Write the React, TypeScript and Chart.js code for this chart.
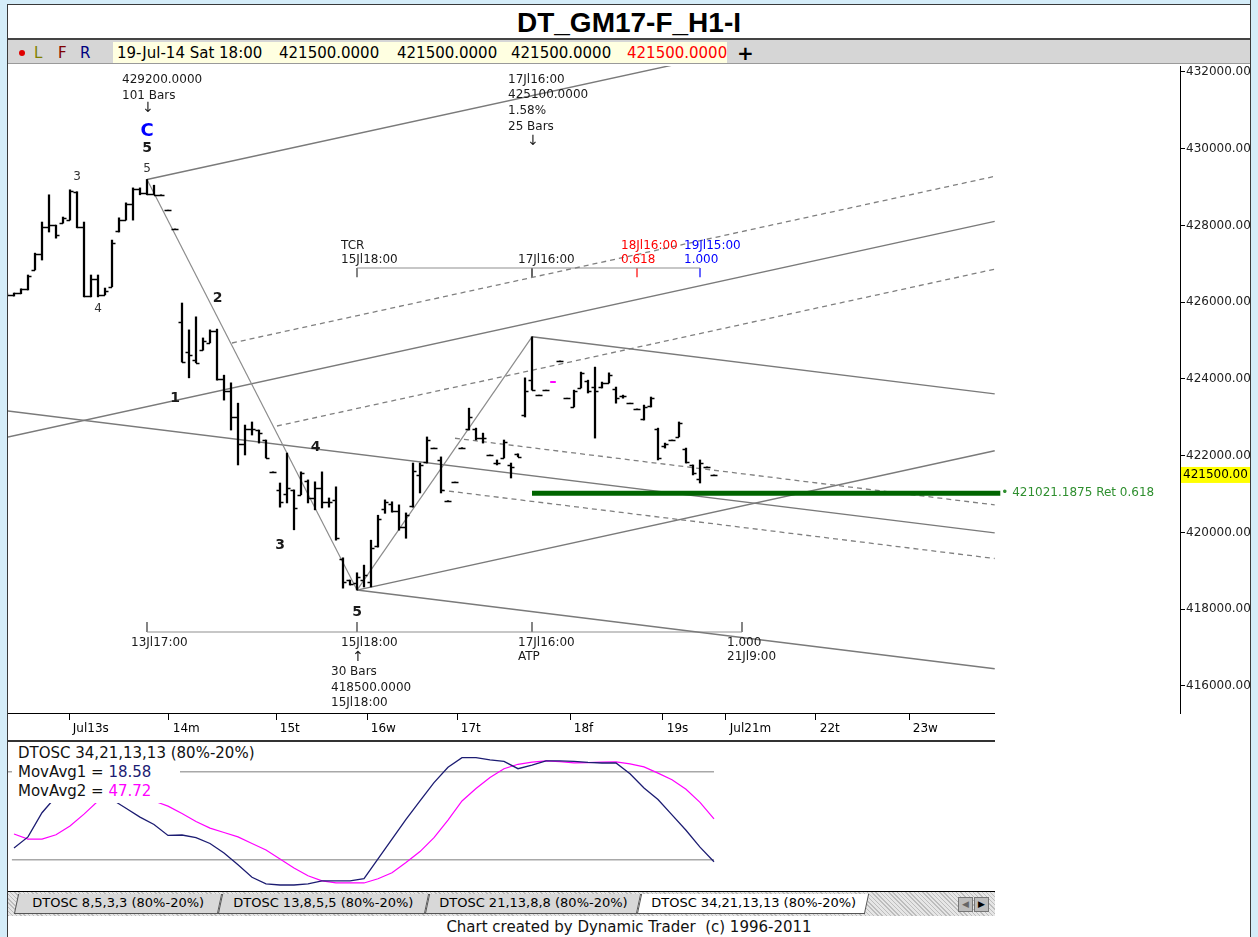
import React, { useEffect, useRef } from 'react';
import { Chart, registerables } from 'chart.js';
Chart.register(...registerables);

const FONT = '"DejaVu Sans", Verdana, sans-serif';

// ---------------- price bars (hourly, x = bar number) ----------------
const barIdx = [0,1,2,3,4,5,6,7,8,9,10,11,12,13,14,15,16,17,18,19,20,21,22,23,24,25,26,27,28,29,30,31,32,33,34,35,36,37,38,39,40,41,42,43,44,45,46,47,48,49,50,51,52,53,54,55,56,57,58,59,60,61,62,63,64,65,66,67,68,69,70,71,72,73,74,75,76,77,78,79,80,81,82,83,84,85,86,87,88,89,90,91,92,93,94,95,96,97,98,99,100,101];
const opens = [426220,426200,426230,426340,426850,427250,427950,428000,428070,428150,428880,427950,426160,426600,426200,426400,427850,428150,428550,428950,428850,428820,428800,428400,427910,425480,424700,424500,424760,424950,425250,424000,423700,423000,422300,422700,422670,422400,421580,421100,421000,421100,420990,421350,420900,421150,420800,420850,419300,418760,418680,418760,418700,419650,420600,420750,420550,420150,420700,421500,421850,422200,421900,420830,421315,422210,422700,422700,422450,422020,421820,421950,421750,422040,423050,423970,423580,423710,null,424470,423500,423270,423770,423950,423800,423780,423900,423750,423550,423370,423220,422950,423300,422700,422250,422410,422490,422180,421750,421400,421710,421500];
const highs = [426240,426240,426350,426710,427280,428090,428800,428010,428220,428930,428880,428090,426710,426710,426370,427620,428200,428590,428980,428980,429200,429050,428800,428400,427910,425980,425280,425620,425070,425280,425300,424100,423900,423370,422800,422880,422670,422410,421580,421290,422070,421110,421580,421370,421320,421580,420900,421190,419340,418760,418950,419150,419800,420450,420850,420800,420720,420510,421810,421810,422490,422200,421970,420830,421315,422210,423240,422720,422590,422020,421890,422410,421810,422050,424030,425100,423580,423710,null,424470,423500,423710,424180,423970,424310,423920,424160,423790,423580,423370,423220,423320,423530,422720,422330,422410,422880,422200,421760,421890,421710,421500];
const lows = [426190,426160,426220,426320,426840,427100,427830,427670,428060,428140,427940,426140,426140,426140,426190,426400,427830,428140,428140,428800,428800,428800,428800,428400,427910,424440,424030,424420,424750,424940,423970,423450,422670,421760,422020,422540,422330,421940,421580,420660,420770,420070,420980,420770,420590,420640,420660,419800,418550,418630,418500,418580,418580,419620,420500,420530,420060,419850,420660,421030,421810,422200,421030,420830,421315,422210,422670,422410,422330,422020,421760,421940,421420,421970,423010,423710,423580,423710,null,424470,423500,423270,423765,423635,422460,423765,423895,423370,423500,423370,423220,422930,423270,421890,422200,422410,422490,421810,421500,421290,421710,421500];
const closes = [426200,426230,426340,426680,427250,427950,428000,427750,428200,428900,427950,426160,426600,426200,426300,427550,428150,428550,428950,428850,428820,428800,428800,428400,427910,424450,424620,424420,425000,425250,424000,423700,423000,422300,422700,422700,422600,421950,421580,420800,421150,420650,421550,420900,421150,420800,420800,419850,418700,418650,418840,418900,419600,420350,420800,420550,420150,420450,421600,421750,422400,422200,421100,420830,421315,422210,423000,422450,422450,422020,421820,422350,421700,421980,423700,423720,423580,423710,null,424470,423500,423700,424150,423680,423700,423900,424100,423500,423550,423370,423220,423280,423500,421950,422300,422410,422850,421850,421550,421800,421710,421500];
const lastClose = 421500;
const markerBar = [77.6, 78.4];
const markerPrice = 423921;

// ---------------- axes ----------------
const priceTicks = [416000,418000,420000,422000,424000,426000,428000,430000,432000];
const dayTicks = [8.86,23.14,38.43,51.43,64.29,80.43,93.71,102.71,115.57,128.86];
const dayLabels = ['Jul13s','14m','15t','16w','17t','18f','19s','Jul21m','22t','23w'];

// ---------------- drawn tools (bar, price) ----------------
const waveCto5 = [[20,429200],[50,418500]];
const wave5toATP = [[50,418500],[75,425100]];
const chanUpper = [[20,429200],[141.1,434008]];
const chanMid = [[0.143,422489],[141.1,428108]];
const chanLow = [[50,418500],[141.1,422131]];
const dashA = [[32.14,424938],[141.1,429281]];
const dashB = [[38.57,422775],[141.1,426862]];
const downLeft = [[0.143,423166],[141.1,419990]];
const downTop = [[75,425100],[141.1,423611]];
const downLow = [[50,418500],[141.1,416448]];
const dashC = [[64,422456],[141.1,420719]];
const dashD = [[61.86,421107],[141.1,419322]];
const retLevel = 421021.1875;
const retLine = [[75,retLevel],[141.9,retLevel]];
const tcrPrice = 426893;
const tcrTickPrice = 426650;
const tcrBars = [50,75,90,99];
const projPrice = 417407;
const projTickPrice = 417667;
const projBars = [20,50,75,105];

// ---------------- oscillator ----------------
const oscBars = [1,3,5,7,9,11,13,15,17,19,21,23,25,27,29,31,33,35,37,39,41,43,45,47,49,51,53,55,57,59,61,63,65,67,69,71,73,75,77,79,81,83,85,87,89,91,93,95,97,99,101];
const movAvg1 = [28,35.5,52,63,68,70,67,61,55,49,44,36.5,36.8,35,31,24.5,16.5,8,3.5,2.7,2.7,3.5,5.5,5.5,5.5,7,20.5,34,47.5,60,72.5,83,89.5,89.5,88,87,82,84.5,87.3,87.3,87,86.3,85.9,85.9,78.5,68.9,61,50.5,40,28.5,18.58];
const movAvg2 = [37.5,34,34,37,43,51,60,64,66,64,60,56.5,51.5,46,41.5,38.5,35.5,31,26.6,20.5,14.3,9,5.5,4.1,4.1,4.1,7,11,18,25.5,35,47,60,68.5,76,82,85,86.5,87.3,86.8,86,86.2,86.5,86.6,85.3,83.2,79,74.5,68,59,47.72];
const oscUpper = 80;
const oscLower = 20;

const pts = (a: number[][]) => a.map(([x, y]) => ({ x, y }));
const seg = (a: number[][], color: string, width: number, dash: number[] = [], order = 5) => ({
  type: 'line' as const, data: pts(a), borderColor: color, borderWidth: width, borderDash: dash,
  pointRadius: 0, fill: false, tension: 0, order,
});

const ohlcPlugin = {
  id: 'ohlcTicks',
  afterDatasetsDraw(chart: any) {
    const { ctx, scales: { x, y } } = chart;
    ctx.save();
    ctx.strokeStyle = '#000';
    ctx.lineWidth = 1.4;
    ctx.beginPath();
    for (let k = 0; k < barIdx.length; k++) {
      if (opens[k] == null) continue;
      const px = x.getPixelForValue(barIdx[k]);
      const po = Math.round(y.getPixelForValue(opens[k] as number)) + 0.5;
      const pcl = Math.round(y.getPixelForValue(closes[k] as number)) + 0.5;
      ctx.moveTo(px - 3.5, po); ctx.lineTo(px, po);
      ctx.moveTo(px, pcl); ctx.lineTo(px + 3.5, pcl);
    }
    ctx.stroke();
    ctx.restore();
  },
};

function txt(ctx: CanvasRenderingContext2D, s: string, x: number, y: number, color = '#1a1a1a', size = 12, bold = false, align: CanvasTextAlign = 'left') {
  ctx.font = `${bold ? 'bold ' : ''}${size}px ${FONT}`;
  ctx.fillStyle = color;
  ctx.textAlign = align;
  ctx.textBaseline = 'middle';
  ctx.fillText(s, x, y);
}

const notesPlugin = {
  id: 'notes',
  afterDraw(chart: any) {
    const { ctx, scales: { x, y }, chartArea } = chart;
    const X = (b: number) => x.getPixelForValue(b);
    const Y = (v: number) => y.getPixelForValue(v);
    const top = chartArea.top;
    ctx.save();
    // C top group
    const cx = X(20), cy = Y(429200);
    txt(ctx, '429200.0000', cx - 25, cy - 100);
    txt(ctx, '101 Bars', cx - 25, cy - 84);
    txt(ctx, '\u2193', cx + 1, cy - 71, '#1a1a1a', 14, false, 'center');
    txt(ctx, 'C', cx, cy - 48, '#0000ff', 18, true, 'center');
    txt(ctx, '5', cx, cy - 31, '#1a1a1a', 14, true, 'center');
    txt(ctx, '5', cx, cy - 11, '#333', 12, false, 'center');
    // wave labels
    txt(ctx, '3', X(10), Y(428930) - 13, '#333', 12, false, 'center');
    txt(ctx, '4', X(13), Y(426140) + 12, '#333', 12, false, 'center');
    txt(ctx, '2', X(30.1), Y(425300) - 31, '#1a1a1a', 14, true, 'center');
    txt(ctx, '1', X(24), Y(423504), '#1a1a1a', 14, true, 'center');
    txt(ctx, '4', X(44.1), Y(422228), '#1a1a1a', 14, true, 'center');
    txt(ctx, '3', X(39), Y(419674), '#1a1a1a', 14, true, 'center');
    txt(ctx, '5', X(50), Y(418500) + 22, '#1a1a1a', 14, true, 'center');
    // ATP top group
    const ax = X(75);
    txt(ctx, '17Jl16:00', ax - 24, top + 14);
    txt(ctx, '425100.0000', ax - 24, top + 29);
    txt(ctx, '1.58%', ax - 24, top + 45);
    txt(ctx, '25 Bars', ax - 24, top + 61);
    txt(ctx, '\u2193', ax + 1, top + 75, '#1a1a1a', 14, false, 'center');
    // TCR labels
    const ty = Y(tcrPrice);
    txt(ctx, 'TCR', X(50) - 16, ty - 22);
    txt(ctx, '15Jl18:00', X(50) - 16, ty - 8);
    txt(ctx, '17Jl16:00', X(75) - 14, ty - 8);
    txt(ctx, '18Jl16:00', X(90) - 16, ty - 22, '#ff0000');
    txt(ctx, '0.618', X(90) - 16, ty - 8, '#ff0000');
    txt(ctx, '19Jl15:00', X(99) - 16, ty - 22, '#0000ff');
    txt(ctx, '1.000', X(99) - 16, ty - 8, '#0000ff');
    // time projection labels
    const py = Y(projPrice);
    txt(ctx, '13Jl17:00', X(20) - 16, py + 11);
    txt(ctx, '15Jl18:00', X(50) - 16, py + 11);
    txt(ctx, '\u2191', X(50) + 1, py + 25, '#1a1a1a', 14, false, 'center');
    txt(ctx, '30 Bars', X(50) - 26, py + 40);
    txt(ctx, '418500.0000', X(50) - 26, py + 56);
    txt(ctx, '15Jl18:00', X(50) - 26, py + 71);
    txt(ctx, '17Jl16:00', X(75) - 14, py + 11);
    txt(ctx, 'ATP', X(75) - 14, py + 25);
    txt(ctx, '1.000', X(105) - 15, py + 11);
    txt(ctx, '21Jl9:00', X(105) - 15, py + 25);
    // retracement label
    txt(ctx, '\u2022 421021.1875 Ret 0.618', X(141.9) + 1, Y(retLevel), '#2f8f2f', 12);
    // last price on axis
    const ly = Y(lastClose);
    ctx.fillStyle = '#ffff00';
    ctx.fillRect(chartArea.right + 1, ly - 8, 80, 16);
    txt(ctx, '421500.00', chartArea.right + 3, ly, '#000', 12);
    ctx.restore();
  },
};

function priceConfig(): any {
  return {
    type: 'bar',
    data: {
      datasets: [
        {
          type: 'bar', data: barIdx.map((b, k) => ({ x: b, y: lows[k] == null ? null : [lows[k], highs[k]] })),
          backgroundColor: '#000', borderWidth: 0, barThickness: 1.6, grouped: false, order: 0,
        },
        seg([[markerBar[0], markerPrice], [markerBar[1], markerPrice]], '#ff00ff', 2, [], 1),
        seg(retLine, '#006400', 5, [], 2),
        seg(waveCto5, '#8c8c8c', 1.2),
        seg(wave5toATP, '#8c8c8c', 1.2),
        seg(chanUpper, '#7a7a7a', 1.4),
        seg(chanMid, '#7a7a7a', 1.4),
        seg(chanLow, '#7a7a7a', 1.4),
        seg(downLeft, '#7a7a7a', 1.4),
        seg(downTop, '#7a7a7a', 1.4),
        seg(downLow, '#7a7a7a', 1.4),
        seg(dashA, '#808080', 1.3, [5, 4]),
        seg(dashB, '#808080', 1.3, [5, 4]),
        seg(dashC, '#808080', 1.3, [5, 4]),
        seg(dashD, '#808080', 1.3, [5, 4]),
        seg([[tcrBars[0], tcrPrice], [tcrBars[3], tcrPrice]], '#909090', 1.2),
        seg([[tcrBars[0], tcrPrice], [tcrBars[0], tcrTickPrice]], '#333', 1.2),
        seg([[tcrBars[1], tcrPrice], [tcrBars[1], tcrTickPrice]], '#000', 1.2),
        seg([[tcrBars[2], tcrPrice], [tcrBars[2], tcrTickPrice]], '#ff0000', 1.2),
        seg([[tcrBars[3], tcrPrice], [tcrBars[3], tcrTickPrice]], '#0000ff', 1.2),
        seg([[projBars[0], projPrice], [projBars[3], projPrice]], '#909090', 1.2),
        ...projBars.map((b) => seg([[b, projPrice], [b, projTickPrice]], '#333', 1.2)),
      ],
    },
    options: {
      responsive: false, animation: false, events: [],
      layout: { padding: 0, autoPadding: false },
      plugins: { legend: { display: false }, tooltip: { enabled: false } },
      scales: {
        x: {
          type: 'linear', min: 1 / 7, max: 1173 / 7, offset: false,
          grid: { drawOnChartArea: false, tickLength: 7, color: '#000', offset: false },
          border: { display: false },
          ticks: { autoSkip: false, maxRotation: 0, align: 'start', padding: 2, color: '#000', font: { family: FONT, size: 12 },
            callback: (_v: any, i: number) => ' ' + dayLabels[i] },
          afterBuildTicks: (s: any) => { s.ticks = dayTicks.map((v) => ({ value: v })); },
          afterFit: (s: any) => { s.height = 27; s.paddingLeft = 0; s.paddingRight = 0; },
        },
        y: {
          type: 'linear', position: 'right', min: 415296.4, max: 432156.35,
          grid: { drawOnChartArea: false, tickLength: 5, color: '#000' },
          border: { display: true, color: '#000', width: 1 },
          ticks: { padding: 1, color: '#222', font: { family: FONT, size: 12 }, callback: (v: any) => Number(v).toFixed(2) },
          afterBuildTicks: (s: any) => { s.ticks = priceTicks.map((v) => ({ value: v })); },
          afterFit: (s: any) => { s.width = 78; s.paddingTop = 0; s.paddingBottom = 0; },
        },
      },
    },
    plugins: [ohlcPlugin, notesPlugin],
  };
}

function oscConfig(): any {
  return {
    type: 'line',
    data: {
      datasets: [
        { data: oscBars.map((b, k) => ({ x: b, y: movAvg1[k] })), borderColor: '#1c1c72', borderWidth: 1.3, pointRadius: 0, tension: 0, order: 0 },
        { data: oscBars.map((b, k) => ({ x: b, y: movAvg2[k] })), borderColor: '#ff00ff', borderWidth: 1.2, pointRadius: 0, tension: 0, order: 1 },
        seg([[1 / 7, oscUpper], [101, oscUpper]], '#a8a8a8', 1.5, [], 3),
        seg([[0.7, oscLower], [101, oscLower]], '#a8a8a8', 1.5, [], 3),
      ],
    },
    options: {
      responsive: false, animation: false, events: [],
      layout: { padding: { left: 0, right: 78, top: 0, bottom: 0 }, autoPadding: false },
      plugins: { legend: { display: false }, tooltip: { enabled: false } },
      scales: {
        x: { type: 'linear', display: false, min: 1 / 7, max: 1173 / 7 },
        y: { type: 'linear', display: false, min: -0.7, max: 100.2 },
      },
    },
  };
}

const abs = (l: number, t: number, w: number, h: number, extra: React.CSSProperties = {}): React.CSSProperties => ({
  position: 'absolute', left: l, top: t, width: w, height: h, ...extra,
});

const tabs = [
  { label: 'DTOSC 8,5,3,3 (80%-20%)', l: 16, w: 204, active: false },
  { label: 'DTOSC 13,8,5,5 (80%-20%)', l: 220, w: 207, active: false },
  { label: 'DTOSC 21,13,8,8 (80%-20%)', l: 427, w: 212, active: false },
  { label: 'DTOSC 34,21,13,13 (80%-20%)', l: 639, w: 228, active: true },
];

export default function App() {
  const priceRef = useRef<HTMLCanvasElement>(null);
  const oscRef = useRef<HTMLCanvasElement>(null);
  useEffect(() => {
    document.body.style.margin = '0';
    const pc = new Chart(priceRef.current as HTMLCanvasElement, priceConfig());
    const oc = new Chart(oscRef.current as HTMLCanvasElement, oscConfig());
    return () => { pc.destroy(); oc.destroy(); };
  }, []);
  const tb: React.CSSProperties = { position: 'absolute', top: 43, height: 20, lineHeight: '20px', fontFamily: FONT, fontSize: 15, whiteSpace: 'pre' };
  return (
    <div style={{ position: 'absolute', left: 0, top: 0, width: 1258, height: 937, background: '#d5edf9', overflow: 'hidden', fontFamily: FONT }}>
      <div style={abs(7, 4, 1244, 940, { background: '#fff', border: '1px solid #3a3a3a', boxSizing: 'border-box' })} />
      <div style={abs(8, 7, 1242, 32, { textAlign: 'center', fontFamily: '"Liberation Sans", Arial, sans-serif', fontWeight: 'bold', fontSize: 28, lineHeight: '32px', color: '#000' })}>DT_GM17-F_H1-I</div>
      <div style={abs(8, 38, 1242, 2, { background: '#444' })} />
      <div style={abs(8, 40, 1242, 24, { background: '#d6d6d6', borderBottom: '1px solid #9a9a9a', boxSizing: 'border-box' })} />
      <div style={abs(19, 50, 6, 6, { background: '#e00000', borderRadius: 3 })} />
      <div style={{ ...tb, left: 34, color: '#808000' }}>L</div>
      <div style={{ ...tb, left: 58, color: '#800000' }}>F</div>
      <div style={{ ...tb, left: 80, color: '#000080' }}>R</div>
      <div style={abs(113, 42, 614, 21, { background: '#ffffe1' })} />
      <div style={{ ...tb, left: 117, color: '#000' }}>19-Jul-14 Sat 18:00</div>
      <div style={{ ...tb, left: 279, color: '#000' }}>421500.0000</div>
      <div style={{ ...tb, left: 397, color: '#000' }}>421500.0000</div>
      <div style={{ ...tb, left: 511, color: '#000' }}>421500.0000</div>
      <div style={{ ...tb, left: 627, color: '#ff0000', width: 100, overflow: 'hidden' }}>421500.0000</div>
      <div style={{ ...tb, left: 737, color: '#000', fontWeight: 'bold', fontSize: 20 }}>+</div>

      <canvas ref={priceRef} width={1250} height={674} style={abs(8, 66, 1250, 674)} />
      <div style={abs(8, 713, 987, 1, { background: '#000' })} />
      <div style={abs(8, 740, 987, 2, { background: '#333' })} />
      <canvas ref={oscRef} width={1250} height={148} style={abs(8, 742, 1250, 148)} />
      <div style={abs(12, 744, 258, 19, { background: '#fff', fontSize: 15, lineHeight: '19px', paddingLeft: 6, boxSizing: 'border-box', color: '#111', whiteSpace: 'pre' })}>DTOSC 34,21,13,13 (80%-20%)</div>
      <div style={abs(12, 763, 168, 19, { background: '#fff', fontSize: 15, lineHeight: '19px', paddingLeft: 6, boxSizing: 'border-box', color: '#111', whiteSpace: 'pre' })}>MovAvg1 = <span style={{ color: '#1c1c72' }}>18.58</span></div>
      <div style={abs(12, 782, 153, 21, { background: '#fff', fontSize: 15, lineHeight: '19px', paddingLeft: 6, boxSizing: 'border-box', color: '#111', whiteSpace: 'pre' })}>MovAvg2 = <span style={{ color: '#ff00ff' }}>47.72</span></div>

      <div style={abs(8, 891, 987, 1, { background: '#000' })} />
      <div style={abs(8, 892, 987, 24, { background: 'repeating-linear-gradient(45deg,#bdbdbd 0 1px,#e6e6e6 1px 3px)' })} />
      {tabs.map((t) => (
        <div key={t.label} style={abs(t.l, 894, t.w, 20, {
          background: t.active ? '#fff' : '#d8d8d8', border: '1px solid #555', borderTop: 'none', boxSizing: 'border-box',
          fontSize: 13, lineHeight: '18px', textAlign: 'center', color: '#000', whiteSpace: 'pre', transform: 'skewX(-12deg)',
        })}><span style={{ display: 'inline-block', transform: 'skewX(12deg)' }}>{t.label}</span></div>
      ))}
      <div style={abs(958, 897, 15, 15, { background: '#bdbdbd', border: '1px solid #777', boxSizing: 'border-box', fontSize: 9, lineHeight: '13px', textAlign: 'center', color: '#666' })}>{'\u25C0'}</div>
      <div style={abs(974, 897, 15, 15, { background: '#bdbdbd', border: '1px solid #777', boxSizing: 'border-box', fontSize: 9, lineHeight: '13px', textAlign: 'center', color: '#000' })}>{'\u25B6'}</div>
      <div style={abs(8, 918, 1242, 19, { textAlign: 'center', fontSize: 15, lineHeight: '19px', color: '#111', whiteSpace: 'pre' })}>Chart created by Dynamic Trader  (c) 1996-2011</div>
      <div style={abs(1250, 0, 8, 937, { background: '#d5edf9', borderLeft: '1px solid #3a3a3a', boxSizing: 'border-box' })} />
    </div>
  );
}
